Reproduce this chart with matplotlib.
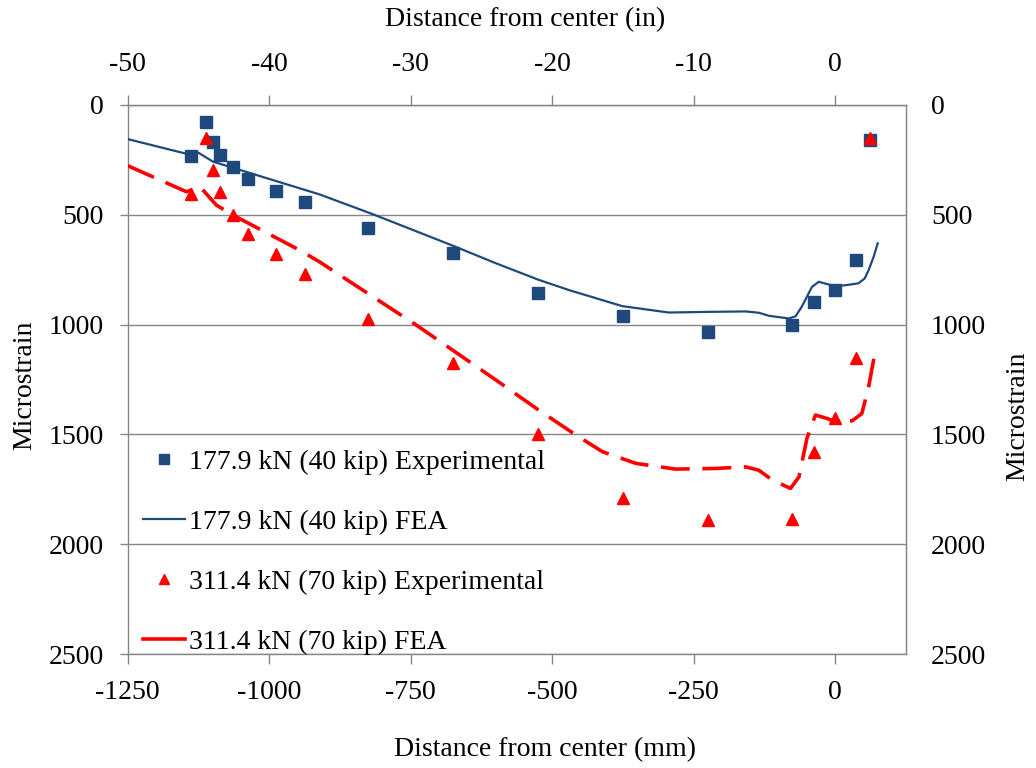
import matplotlib
matplotlib.use('Agg')
import matplotlib.pyplot as plt
from matplotlib.lines import Line2D

plt.rcParams['font.family'] = ['Liberation Serif', 'DejaVu Serif']

# ---- data (distance in mm, strain in microstrain) ----
exp_x = [-1137, -1112, -1099, -1087, -1063, -1037, -987, -937, -825, -675,
         -525, -375, -225, -76, -38, 0, 36, 61]
exp_40 = [232, 79, 167, 229, 284, 337, 390, 442, 560, 673,
          857, 961, 1034, 1002, 896, 843, 706, 159]
exp_70 = [404, 149, 296, 398, 501, 589, 679, 771, 976, 1174,
          1500, 1789, 1891, 1883, 1582, 1424, 1151, 152]

fea40_x = [-1250, -1149, -1125, -1099, -1070, -911, -817, -675, -600, -525,
           -470, -376, -294, -223, -158, -135, -117, -82, -70, -59,
           -41, -29, -15, 0, 20, 41, 52, 59, 68, 75]
fea40_y = [155, 220, 217, 258, 281, 407, 497, 641, 720, 795,
           843, 916, 945, 942, 940, 946, 960, 972, 962, 918,
           828, 805, 815, 825, 820, 812, 790, 752, 690, 630]

fea70_x = [-1250, -1146, -1122, -1093, -1064, -946, -911, -740, -600, -525,
           -458, -411, -352, -282, -211, -158, -135, -111, -79, -64,
           -50, -35, -15, 0, 30, 47, 59, 71]
fea70_y = [276, 395, 372, 456, 501, 661, 714, 1002, 1251, 1387,
           1503, 1579, 1632, 1658, 1655, 1648, 1663, 1708, 1746, 1693,
           1518, 1412, 1427, 1442, 1438, 1405, 1283, 1116]

x_ticks_mm = [-1250, -1000, -750, -500, -250, 0]
x_ticks_in = [-50, -40, -30, -20, -10, 0]
y_ticks = [0, 500, 1000, 1500, 2000, 2500]

labels = ['177.9 kN (40 kip) Experimental', '177.9 kN (40 kip) FEA',
          '311.4 kN (70 kip) Experimental', '311.4 kN (70 kip) FEA']

BLUE = '#1F497D'
RED = '#FF0000'
GRAY = '#868686'
FS = 20

W, H = 1036, 768
fig = plt.figure(figsize=(W / 100, H / 100), dpi=100)
L, R, T, B = 127.5, 906, 105, 654
ax = fig.add_axes([L / W, 1 - B / H, (R - L) / W, (B - T) / H])

ax.yaxis.grid(True, color=GRAY, lw=1.0)
ax.set_axisbelow(True)

ax.plot(fea40_x, fea40_y, color=BLUE, lw=1.6, zorder=3)
ax.plot(fea70_x, fea70_y, color=RED, lw=2.6, dashes=(8, 3.5), zorder=3)
ax.plot(exp_x, exp_40, 's', color=BLUE, ms=8, zorder=4)
ax.plot(exp_x, exp_70, '^', color=RED, ms=8, zorder=5)

ax.set_xlim(-1250, 125)
ax.set_ylim(2500, 0)
ax.set_xticks(x_ticks_mm)
ax.set_xticklabels([str(v) for v in x_ticks_mm])
ax.set_yticks(y_ticks)
ax.set_yticklabels([str(v) for v in y_ticks])

for s in ax.spines.values():
    s.set_color(GRAY)
    s.set_linewidth(1.0)

ax.tick_params(axis='x', direction='out', length=7, width=1, color=GRAY,
               labelsize=FS, pad=12)
ax.tick_params(axis='y', direction='out', length=6, width=1, color=GRAY,
               labelsize=FS, pad=11)

secx = ax.secondary_xaxis('top', functions=(lambda x: x / 25.0, lambda x: x * 25.0))
secx.set_xticks(x_ticks_in)
secx.set_xticklabels([str(v) for v in x_ticks_in])
secx.tick_params(direction='out', length=7, width=1, color=GRAY, labelsize=FS, pad=13)
secx.spines['top'].set_color(GRAY)

secy = ax.secondary_yaxis('right')
secy.set_yticks(y_ticks)
secy.set_yticklabels([str(v) for v in y_ticks])
secy.tick_params(length=0, labelsize=FS, pad=18)
secy.spines['right'].set_color(GRAY)
for t in secy.get_yticklabels():
    t.set_horizontalalignment('left')

handles = [
    Line2D([], [], ls='none', marker='s', color=BLUE, ms=7),
    Line2D([], [], color=BLUE, lw=1.6),
    Line2D([], [], ls='none', marker='^', color=RED, ms=7),
    Line2D([], [], color=RED, lw=2.6),
]
ax.legend(handles, labels, loc='upper left', bbox_to_anchor=(0.02, 0.373),
          frameon=False, fontsize=FS, handlelength=1.5, handletextpad=0.15,
          labelspacing=1.25, borderpad=0, borderaxespad=0)

fig.text(525 / W, 1 - 20 / H, 'Distance from center (in)', ha='center', va='center', fontsize=FS)
fig.text(545 / W, 1 - 750 / H, 'Distance from center (mm)', ha='center', va='center', fontsize=FS)
fig.text(25 / W, 1 - 385 / H, 'Microstrain', ha='center', va='center', rotation=90, fontsize=FS)
fig.text(1018 / W, 1 - 416 / H, 'Microstrain', ha='center', va='center', rotation=90, fontsize=FS)

fig.savefig('out.png', dpi=100)
